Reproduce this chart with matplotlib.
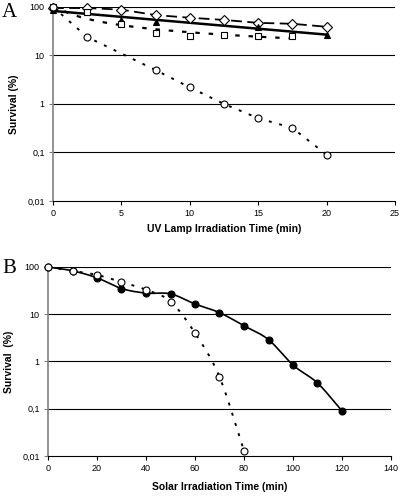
import numpy as np
import matplotlib
matplotlib.use("Agg")
import matplotlib.pyplot as plt
from matplotlib.ticker import FixedLocator, FixedFormatter, NullLocator

# ---------------- Data: panel A (UV lamp) ----------------
uv_time = [0, 2.5, 5, 7.5, 10, 12.5, 15, 17.5, 20]
uv_diamond = [95, 95, 88, 68, 60, 54, 47, 45, 39]
uv_triangle_t = [0, 2.5, 5, 7.5, 15, 20]
uv_triangle = [88, 78, 55, 50, 38, 27]
uv_square_t = [0, 2.5, 5, 7.5, 10, 12.5, 15, 17.5]
uv_square = [100, 80, 45, 29, 25, 26, 25, 25]
uv_circle = [100, 24, None, 5.0, 2.2, 1.0, 0.51, 0.32, 0.09]

# ---------------- Data: panel B (solar) ----------------
sol_open_t = [0, 10, 20, 30, 40, 50, 60, 70, 80]
sol_open = [100, 83, 68, 48, 33, 18.6, 4.0, 0.47, 0.013]
sol_fill_t = [0, 10, 20, 30, 40, 50, 60, 70, 80, 90, 100, 110, 120]
sol_fill = [100, 83, 59, 35, 28, 27, 16.5, 10.8, 5.7, 2.9, 0.84, 0.35, 0.09]

yticks = [0.01, 0.1, 1, 10, 100]
ylabels = ["0,01", "0,1", "1", "10", "100"]

plt.rcParams['font.family'] = ['Liberation Sans', 'DejaVu Sans']


def catmull(x, y, n=20):
    x = np.asarray(x, float)
    y = np.log10(np.asarray(y, float))
    px = np.concatenate([[2 * x[0] - x[1]], x, [2 * x[-1] - x[-2]]])
    py = np.concatenate([[2 * y[0] - y[1]], y, [2 * y[-1] - y[-2]]])
    xs, ys = [], []
    for i in range(1, len(px) - 2):
        t = np.linspace(0, 1, n, endpoint=False)
        for arr, out in ((px, xs), (py, ys)):
            p0, p1, p2, p3 = arr[i - 1], arr[i], arr[i + 1], arr[i + 2]
            out.extend(0.5 * ((2 * p1) + (-p0 + p2) * t
                              + (2 * p0 - 5 * p1 + 4 * p2 - p3) * t ** 2
                              + (-p0 + 3 * p1 - 3 * p2 + p3) * t ** 3))
    xs.append(x[-1]); ys.append(y[-1])
    return np.array(xs), 10 ** np.array(ys)


def style_axes(ax, xmax, xstep):
    ax.set_yscale('log')
    ax.set_ylim(0.01, 100)
    ax.set_xlim(0, xmax)
    ax.yaxis.set_major_locator(FixedLocator(yticks))
    ax.yaxis.set_major_formatter(FixedFormatter(ylabels))
    ax.yaxis.set_minor_locator(NullLocator())
    ax.set_xticks(np.arange(0, xmax + 0.1, xstep))
    for s in ('top', 'right'):
        ax.spines[s].set_visible(False)
    ax.spines['left'].set_color('#808080')
    ax.spines['left'].set_linewidth(1.2)
    ax.spines['bottom'].set_color('#000000')
    ax.spines['bottom'].set_linewidth(0.8)
    for yv in [0.1, 1, 10, 100]:
        ax.axhline(yv, color='black', lw=0.8, zorder=0)
    ax.tick_params(axis='both', labelsize=6.5, length=3, width=0.8,
                   direction='out', colors='black', pad=3)
    ax.tick_params(axis='y', colors='#808080', labelcolor='black')


fig = plt.figure(figsize=(4.0, 4.97), dpi=100)

# ---------------- Panel A ----------------
axA = fig.add_axes([0.1325, 0.5956, 0.855, 0.3904])
style_axes(axA, 25, 5)

mk = dict(ms=5, mec='black', mew=0.8, clip_on=False, zorder=5)

# diamond series - long dashed
axA.plot(uv_time, uv_diamond, ls=(0, (6, 3)), color='black', lw=1.3, zorder=3, clip_on=False)
axA.plot(uv_time, uv_diamond, 'D', mfc='white', **{**mk, 'ms': 4.8})

# triangle series - solid exponential trend
p = np.polyfit(uv_triangle_t, np.log10(uv_triangle), 1)
tt = np.linspace(0, 20, 50)
axA.plot(tt, 10 ** np.polyval(p, tt), '-', color='black', lw=1.8, zorder=4)
axA.plot(uv_triangle_t, uv_triangle, '^', mfc='black', **mk)

# square series - dotted trend
ps = np.polyfit(np.log(np.array(uv_square_t) + 1), np.log10(uv_square), 1)
ts = np.linspace(0, 17.5, 50)
axA.plot(ts, 10 ** np.polyval(ps, np.log(ts + 1)), ls=(0, (2, 4)), color='black', lw=1.6, zorder=3)
axA.plot(uv_square_t, uv_square, 's', mfc='white', **mk)

# circle series - dotted
ct = [t for t, v in zip(uv_time, uv_circle) if v is not None]
cv = [v for v in uv_circle if v is not None]
axA.plot(ct, cv, ls=(0, (1.5, 4)), color='black', lw=1.4, zorder=3)
axA.plot(ct, cv, 'o', mfc='white', **mk)

axA.set_ylabel('Survival (%)', fontsize=7.5, fontweight='bold', labelpad=6)
axA.set_xlabel('UV Lamp Irradiation Time (min)', fontsize=7.5, fontweight='bold', labelpad=4)
fig.text(0.005, 0.975, 'A', fontsize=15, family='Liberation Serif', va='center', ha='left')

# ---------------- Panel B ----------------
axB = fig.add_axes([0.12, 0.0825, 0.8575, 0.3803])
style_axes(axB, 140, 20)

sx, sy = catmull(sol_fill_t, sol_fill)
axB.plot(sx, sy, '-', color='black', lw=1.2, zorder=3)
axB.plot(sol_fill_t, sol_fill, 'o', mfc='black', **mk)

ox, oy = catmull(sol_open_t, sol_open)
axB.plot(ox, oy, ls=(0, (1.5, 4)), color='black', lw=1.4, zorder=3)
axB.plot(sol_open_t, sol_open, 'o', mfc='white', **mk)

axB.set_ylabel('Survival  (%)', fontsize=7.5, fontweight='bold', labelpad=6)
axB.set_xlabel('Solar Irradiation Time (min)', fontsize=7.5, fontweight='bold', labelpad=6)
fig.text(0.005, 0.46, 'B', fontsize=15, family='Liberation Serif', va='center', ha='left')

fig.savefig('out.png', dpi=100)
